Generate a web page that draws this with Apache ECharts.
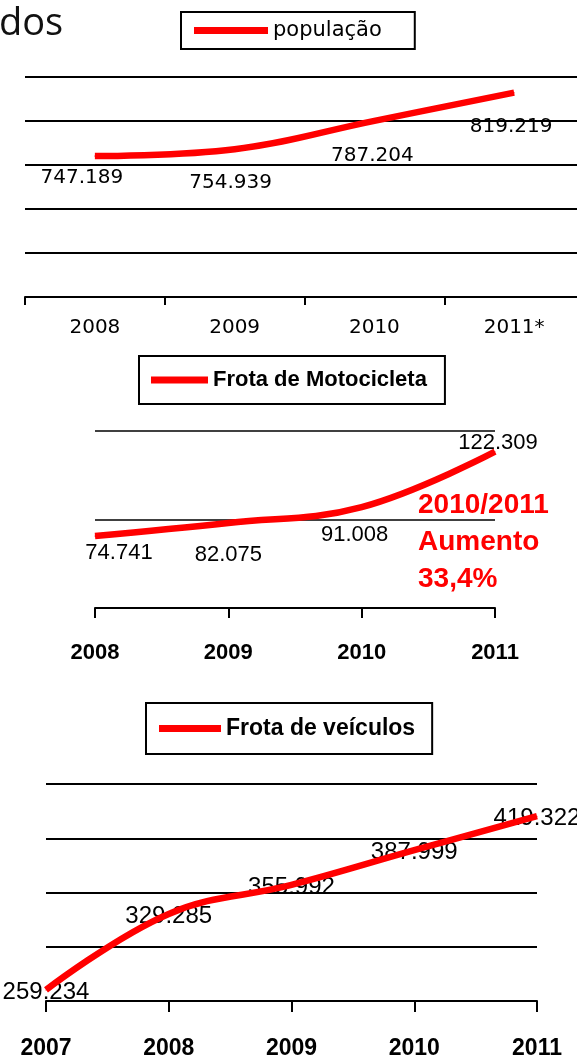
<!DOCTYPE html>
<html>
<head>
<meta charset="utf-8">
<title>População e frota</title>
<script src="https://cdn.jsdelivr.net/npm/echarts@6/dist/echarts.min.js"></script>
<style>
html, body { margin: 0; padding: 0; background: #fff; }
#main { width: 577px; height: 1059px; }
</style>
</head>
<body>
<div id="main"></div>
<script>
var popYears = ['2008', '2009', '2010', '2011*'];
var popValues = [747189, 754939, 787204, 819219];
var motoYears = ['2008', '2009', '2010', '2011'];
var motoValues = [74741, 82075, 91008, 122309];
var vehYears = ['2007', '2008', '2009', '2010', '2011'];
var vehValues = [259234, 329285, 355992, 387999, 419322];

// deslocamento dos rótulos (px) em relação ao ponto
var popLabelShift = [[-13, 22], [-4, 34], [-2, 35], [-3, 34]];
var motoLabelShift = [[24, 17], [0, 32], [-7, 28], [3, -9]];

var red = '#ff0000';
var myChart = echarts.init(document.getElementById('main'));

function fmt(v) {
    return String(v).replace(/\B(?=(\d{3})+(?!\d))/g, '.');
}

function withShift(values, shifts) {
    return values.map(function (v, i) {
        return { value: v, label: { offset: shifts[i] } };
    });
}

function xAxisFor(idx, cats, gap, tickLen, font, size, weight, margin) {
    return {
        gridIndex: idx,
        type: 'category',
        data: cats,
        boundaryGap: gap,
        axisLine: { lineStyle: { color: '#000', width: 2 } },
        axisTick: { show: true, length: tickLen, lineStyle: { color: '#000', width: 2 } },
        axisLabel: { color: '#000', fontFamily: font, fontSize: size, fontWeight: weight, margin: margin, interval: 0 },
        splitLine: { show: false }
    };
}

// eixo só para as linhas de grade
function gridLines(idx, n, w) {
    return {
        gridIndex: idx, type: 'value', min: 0, max: n, interval: 1,
        axisLine: { show: false }, axisTick: { show: false }, axisLabel: { show: false },
        splitLine: { show: true, lineStyle: { color: '#000', width: w } }
    };
}

function legendFor(name, left, top, iw, pad, size, weight, font) {
    return {
        data: [name], left: left, top: top, icon: 'rect',
        itemWidth: iw, itemHeight: 7, padding: pad,
        borderColor: '#000', borderWidth: 2, selectedMode: false,
        itemStyle: { color: red },
        textStyle: { color: '#000', fontFamily: font, fontSize: size, fontWeight: weight }
    };
}

var labelFmt = function (p) { return fmt(p.value); };

option = {
    animation: false,
    backgroundColor: '#fff',
    title: [
        {
            text: 'dos', left: -1, top: 5, padding: 0,
            textStyle: { fontFamily: 'Open Sans', fontSize: 38, fontWeight: 'normal', color: '#111' }
        },
        {
            text: '2010/2011\nAumento\n33,4%', left: 418, top: 487, padding: 0,
            textStyle: { color: red, fontFamily: 'Liberation Sans', fontWeight: 'bold', fontSize: 28, lineHeight: 37 }
        }
    ],
    legend: [
        legendFor('população', 181, 12, 74, [8, 33, 8, 13], 21, 'normal', 'DejaVu Sans'),
        legendFor('Frota de Motocicleta', 139, 356, 57, [13, 18, 13, 12], 22, 'bold', 'Liberation Sans'),
        legendFor('Frota de veículos', 146, 703, 62, [14, 17, 14, 13], 23, 'bold', 'Liberation Sans')
    ],
    grid: [
        { left: 25, top: 77, width: 559, height: 220, outerBoundsMode: 'none' },
        { left: 95, top: 431, width: 400, height: 177, outerBoundsMode: 'none' },
        { left: 46, top: 784, width: 491, height: 217, outerBoundsMode: 'none' }
    ],
    xAxis: [
        xAxisFor(0, popYears, true, 8, 'DejaVu Sans', 20, 'normal', 21),
        xAxisFor(1, motoYears, false, 10, 'Liberation Sans', 22, 'bold', 34),
        xAxisFor(2, vehYears, false, 11, 'Liberation Sans', 23, 'bold', 36)
    ],
    yAxis: [
        { gridIndex: 0, type: 'value', min: 587000, max: 837000, show: false },
        { gridIndex: 1, type: 'value', min: 34000, max: 134000, show: false },
        { gridIndex: 2, type: 'value', min: 249000, max: 449000, show: false },
        gridLines(0, 5, 2),
        gridLines(1, 2, 1.6),
        gridLines(2, 4, 2)
    ],
    series: [
        {
            name: 'população', type: 'line', xAxisIndex: 0, yAxisIndex: 0,
            data: withShift(popValues, popLabelShift),
            smooth: 0.4, symbol: 'circle', symbolSize: 1, showSymbol: true,
            lineStyle: { color: red, width: 6.5 }, itemStyle: { color: red },
            label: { show: true, position: 'inside', formatter: labelFmt, color: '#000', fontFamily: 'DejaVu Sans', fontSize: 20 },
            emphasis: { disabled: true }, silent: true, z: 3
        },
        {
            name: 'Frota de Motocicleta', type: 'line', xAxisIndex: 1, yAxisIndex: 1,
            data: withShift(motoValues, motoLabelShift),
            smooth: 0.4, symbol: 'circle', symbolSize: 1, showSymbol: true,
            lineStyle: { color: red, width: 6.5 }, itemStyle: { color: red },
            label: { show: true, position: 'inside', formatter: labelFmt, color: '#000', fontFamily: 'Liberation Sans', fontSize: 22 },
            emphasis: { disabled: true }, silent: true, z: 3
        },
        {
            // só os rótulos, por baixo da linha
            name: 'Frota de veículos', type: 'line', xAxisIndex: 2, yAxisIndex: 2,
            data: vehValues,
            symbol: 'circle', symbolSize: 1, showSymbol: true,
            lineStyle: { opacity: 0 }, itemStyle: { color: red },
            label: { show: true, position: 'inside', offset: [0, 2], formatter: labelFmt, color: '#000', fontFamily: 'Liberation Sans', fontSize: 24 },
            emphasis: { disabled: true }, silent: true, z: 2
        },
        {
            name: 'Frota de veículos', type: 'line', xAxisIndex: 2, yAxisIndex: 2,
            data: vehValues,
            smooth: 0.4, showSymbol: false,
            lineStyle: { color: red, width: 6.5 }, itemStyle: { color: red },
            emphasis: { disabled: true }, silent: true, z: 3
        }
    ]
};
myChart.setOption(option);
</script>
</body>
</html>
